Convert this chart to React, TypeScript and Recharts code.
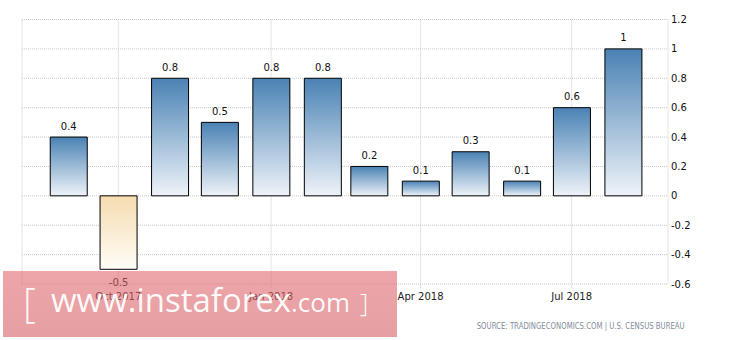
import React from "react";
import { BarChart, Bar, XAxis, YAxis, CartesianGrid, LabelList, Cell } from "recharts";

const months = ["2017-09", "2017-10", "2017-11", "2017-12", "2018-01", "2018-02", "2018-03", "2018-04", "2018-05", "2018-06", "2018-07", "2018-08"];
const values = [0.4, -0.5, 0.8, 0.5, 0.8, 0.8, 0.2, 0.1, 0.3, 0.1, 0.6, 1];
const tickMonths = ["2017-10", "2018-01", "2018-04", "2018-07"];
const tickLabels = ["Oct 2017", "Jan 2018", "Apr 2018", "Jul 2018"];
const yTicks = [-0.6, -0.4, -0.2, 0, 0.2, 0.4, 0.6, 0.8, 1, 1.2];
const sourceText = "SOURCE: TRADINGECONOMICS.COM | U.S. CENSUS BUREAU";

const DAY = 86400000;
const toTime = (m: string) => Date.parse(m + "-01T00:00:00Z");

const data = months.map((m, i) => ({ t: toTime(m), value: values[i] }));
const ticks = tickMonths.map(toTime);
const domain = [data[0].t - 28 * DAY, data[data.length - 1].t + 27 * DAY];

const FONT = "'DejaVu Sans', sans-serif";

const fmtY = (v: number) => String(Math.round(v * 10) / 10);
const fmtX = (t: number) => {
  const i = ticks.indexOf(t);
  return i >= 0 ? tickLabels[i] : "";
};

const ValueLabel = (props: any) => {
  const { x, y, width, height, value } = props;
  const top = Math.min(y, y + height);
  const bottom = Math.max(y, y + height);
  const cx = x + width / 2;
  const cy = value >= 0 ? top - 11 : bottom + 13;
  return (
    <text x={cx} y={cy} textAnchor="middle" dominantBaseline="central" fontSize={10} fontFamily={FONT} fill="#111">
      {fmtY(value)}
    </text>
  );
};

export default function App() {
  return (
    <div style={{ position: "absolute", left: 0, top: 0, width: 730, height: 340, background: "#fff" }}>
      <BarChart width={730} height={340} data={data} margin={{ top: 19.5, left: 22, right: 0, bottom: 26 }}>
        <defs>
          <linearGradient id="posGrad" x1="0" y1="0" x2="0" y2="1">
            <stop offset="0%" stopColor="#4a82b4" />
            <stop offset="100%" stopColor="#eef3f9" />
          </linearGradient>
          <linearGradient id="negGrad" x1="0" y1="0" x2="0" y2="1">
            <stop offset="0%" stopColor="#f5dcaf" />
            <stop offset="100%" stopColor="#fffdf8" />
          </linearGradient>
        </defs>
        <CartesianGrid stroke="#c8c8c8" strokeDasharray="1 1" />
        <XAxis
          dataKey="t"
          type="number"
          scale="linear"
          domain={domain}
          ticks={ticks}
          tickFormatter={fmtX}
          axisLine={false}
          tickLine={{ stroke: "#c8c8c8", strokeDasharray: "1 1" }}
          tickSize={4}
          tickMargin={4.5}
          height={30}
          tick={{ fontSize: 10, fontFamily: FONT, fill: "#222" }}
          allowDataOverflow
        />
        <YAxis
          orientation="right"
          domain={[-0.6, 1.2]}
          ticks={yTicks}
          tickFormatter={fmtY}
          axisLine={false}
          tickLine={false}
          tickSize={0}
          tickMargin={3}
          width={62}
          tick={{ fontSize: 10, fontFamily: FONT, fill: "#111" }}
          allowDataOverflow
        />
        <Bar dataKey="value" barSize={37} stroke="#000" strokeWidth={1} isAnimationActive={false}>
          {data.map((d, i) => (
            <Cell key={i} fill={d.value >= 0 ? "url(#posGrad)" : "url(#negGrad)"} />
          ))}
          <LabelList dataKey="value" content={ValueLabel} />
        </Bar>
        <text x={476.7} y={326} dominantBaseline="central" fontSize={8} fontFamily={FONT} fill="#7f8c99" textLength={208} lengthAdjust="spacingAndGlyphs">
          {sourceText}
        </text>
      </BarChart>
      <div
        style={{
          position: "absolute",
          left: 3,
          top: 271,
          width: 394,
          height: 66,
          background: "linear-gradient(rgba(224,100,106,0.58), rgba(214,100,104,0.62))",
          overflow: "hidden",
        }}
      >
        <div style={{ position: "absolute", left: 20, top: 11, color: "rgba(255,255,255,0.92)", fontFamily: "'Open Sans', sans-serif", fontSize: 40, fontWeight: 300, lineHeight: "40px" }}>[</div>
        <div style={{ position: "absolute", left: 48, top: 9, color: "rgba(255,255,255,0.95)", fontFamily: "'Open Sans', sans-serif", fontSize: 33, lineHeight: "40px", whiteSpace: "nowrap" }}>
          www.instaforex<span style={{ fontSize: 26 }}>.com</span>
          <span style={{ fontSize: 26, fontWeight: 300, marginLeft: 10 }}>]</span>
        </div>
      </div>
    </div>
  );
}
